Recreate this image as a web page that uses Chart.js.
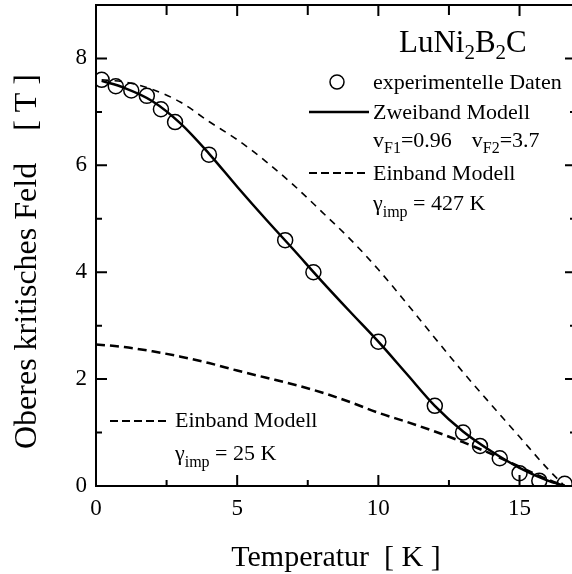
<!DOCTYPE html>
<html>
<head>
<meta charset="utf-8">
<script src="https://cdn.jsdelivr.net/npm/chart.js"></script>
<style>
  html, body { margin: 0; padding: 0; background: #fff; overflow: hidden; }
  #wrap { width: 576px; height: 574px; }
</style>
</head>
<body>
<div id="wrap"><canvas id="chart" width="576" height="574"></canvas></div>
<script>
// experimental points
const expT = [0.2, 0.7, 1.25, 1.8, 2.3, 2.8, 4.0, 6.7, 7.7, 10.0, 12.0, 13.0, 13.6, 14.3, 15.0, 15.7, 16.6];
const expH = [7.6, 7.48, 7.4, 7.3, 7.05, 6.81, 6.2, 4.6, 4.0, 2.7, 1.5, 1.0, 0.75, 0.52, 0.24, 0.1, 0.04];

// Zweiband Modell
const twoBandT = [0.2, 1, 2, 3, 4, 5, 6, 7, 8, 9, 10, 11, 12, 13, 14, 15, 16, 16.6];
const twoBandH = [7.58, 7.45, 7.2, 6.78, 6.22, 5.6, 5.0, 4.42, 3.83, 3.26, 2.7, 2.1, 1.5, 1.02, 0.65, 0.34, 0.1, 0];

// Einband Modell, gamma_imp = 427 K
const oneBand427T = [0.2, 1, 2, 3, 4, 5, 6, 7, 8, 9, 10, 11, 12, 13, 14, 15, 16, 16.6];
const oneBand427H = [7.6, 7.56, 7.42, 7.18, 6.82, 6.48, 6.08, 5.63, 5.13, 4.62, 4.05, 3.42, 2.77, 2.13, 1.52, 0.92, 0.32, 0];

// Einband Modell, gamma_imp = 25 K
const oneBand25T = [0, 1, 2, 3, 4, 5, 6, 7, 8, 9, 10, 11, 12, 13, 14, 15, 16, 16.6];
const oneBand25H = [2.65, 2.6, 2.52, 2.42, 2.3, 2.16, 2.03, 1.9, 1.75, 1.57, 1.37, 1.2, 1.02, 0.82, 0.6, 0.36, 0.12, 0];

// ticks
const xTicks = [0, 5, 10, 15];
const xMinor = [2.5, 7.5, 12.5];
const yTicks = [0, 2, 4, 6, 8];
const yMinor = [1, 3, 5, 7];

const serif = "'Liberation Serif', 'Times New Roman', serif";
Chart.defaults.font.family = serif;
Chart.defaults.color = '#000';

const pts = (xs, ys) => xs.map((x, i) => ({ x, y: ys[i] }));

// draws text pieces one after another, with subscripts
function drawParts(ctx, x, y, parts) {
    parts.forEach(p => {
        if (p.gap) { x += p.gap; return; }
        ctx.font = p.size + 'px ' + serif;
        ctx.fillText(p.t, x, y + (p.dy || 0));
        x += ctx.measureText(p.t).width;
    });
}

// no extra room for half tick labels at the scale ends
function noPad(s) {
    s.paddingTop = 0; s.paddingBottom = 0; s.paddingLeft = 0; s.paddingRight = 0;
}

const framePlugin = {
    id: 'frame',
    afterDraw(chart) {
        const { ctx, chartArea: a, scales: { x, y } } = chart;
        ctx.save();
        ctx.strokeStyle = '#000';
        ctx.lineWidth = 2;
        ctx.setLineDash([]);
        ctx.strokeRect(a.left, a.top, a.right - a.left, a.bottom - a.top);

        // inward ticks
        ctx.beginPath();
        const tick = (x1, y1, x2, y2) => { ctx.moveTo(x1, y1); ctx.lineTo(x2, y2); };
        xTicks.forEach(v => {
            const px = x.getPixelForValue(v);
            tick(px, a.bottom, px, a.bottom - 11);
            tick(px, a.top, px, a.top + 11);
        });
        xMinor.forEach(v => {
            const px = x.getPixelForValue(v);
            tick(px, a.bottom, px, a.bottom - 6);
            tick(px, a.top, px, a.top + 10);
        });
        yTicks.forEach(v => {
            const py = y.getPixelForValue(v);
            tick(a.left, py, a.left + 11, py);
            tick(a.right, py, a.right - 11, py);
        });
        yMinor.forEach(v => {
            const py = y.getPixelForValue(v);
            tick(a.left, py, a.left + 6, py);
            tick(a.right, py, a.right - 6, py);
        });
        ctx.stroke();

        // legend / annotations
        ctx.fillStyle = '#000';
        ctx.textBaseline = 'alphabetic';
        ctx.textAlign = 'left';
        drawParts(ctx, 399, 52, [
            { t: 'LuNi', size: 31 }, { t: '2', size: 21, dy: 7 },
            { t: 'B', size: 31 }, { t: '2', size: 21, dy: 7 }, { t: 'C', size: 31 }
        ]);

        ctx.lineWidth = 1.5;
        ctx.beginPath();
        ctx.arc(337, 82, 7, 0, Math.PI * 2);
        ctx.stroke();
        drawParts(ctx, 373, 89, [{ t: 'experimentelle Daten', size: 22 }]);

        ctx.lineWidth = 2.5;
        ctx.beginPath();
        ctx.moveTo(309, 112); ctx.lineTo(369, 112);
        ctx.stroke();
        drawParts(ctx, 373, 119, [{ t: 'Zweiband Modell', size: 22 }]);
        drawParts(ctx, 373, 147, [
            { t: 'v', size: 22 }, { t: 'F1', size: 16, dy: 6 }, { t: '=0.96', size: 22 },
            { gap: 20 },
            { t: 'v', size: 22 }, { t: 'F2', size: 16, dy: 6 }, { t: '=3.7', size: 22 }
        ]);

        ctx.lineWidth = 2;
        ctx.setLineDash([8, 4]);
        ctx.beginPath();
        ctx.moveTo(309, 173); ctx.lineTo(369, 173);
        ctx.moveTo(110, 421); ctx.lineTo(170, 421);
        ctx.stroke();
        ctx.setLineDash([]);
        drawParts(ctx, 373, 180, [{ t: 'Einband Modell', size: 22 }]);
        drawParts(ctx, 373, 210, [
            { t: 'γ', size: 22 }, { t: 'imp', size: 16, dy: 7 }, { t: ' = 427 K', size: 22 }
        ]);
        drawParts(ctx, 175, 427, [{ t: 'Einband Modell', size: 22 }]);
        drawParts(ctx, 175, 460, [
            { t: 'γ', size: 22 }, { t: 'imp', size: 16, dy: 7 }, { t: ' = 25 K', size: 22 }
        ]);
        ctx.restore();
    }
};

const ctx = document.getElementById('chart').getContext('2d');
new Chart(ctx, {
    type: 'scatter',
    data: {
        datasets: [
            {
                label: 'experimentelle Daten',
                data: pts(expT, expH),
                showLine: false,
                pointStyle: 'circle',
                pointRadius: 7.5,
                pointBorderWidth: 1.5,
                pointBorderColor: '#000',
                pointBackgroundColor: 'rgba(0,0,0,0)'
            },
            {
                label: 'Zweiband Modell',
                data: pts(twoBandT, twoBandH),
                showLine: true,
                borderColor: '#000',
                borderWidth: 2.5,
                pointRadius: 0,
                cubicInterpolationMode: 'monotone'
            },
            {
                label: 'Einband Modell 427 K',
                data: pts(oneBand427T, oneBand427H),
                showLine: true,
                borderColor: '#000',
                borderWidth: 1.6,
                borderDash: [7, 6],
                pointRadius: 0,
                cubicInterpolationMode: 'monotone'
            },
            {
                label: 'Einband Modell 25 K',
                data: pts(oneBand25T, oneBand25H),
                showLine: true,
                borderColor: '#000',
                borderWidth: 2.5,
                borderDash: [9, 5],
                pointRadius: 0,
                cubicInterpolationMode: 'monotone'
            }
        ]
    },
    options: {
        responsive: false,
        animation: false,
        layout: { autoPadding: false, padding: { top: 5, left: 0, right: 0, bottom: 0 } },
        plugins: { legend: { display: false }, tooltip: { enabled: false } },
        scales: {
            x: {
                type: 'linear',
                min: 0,
                max: 17,
                grid: { display: false, drawTicks: false },
                border: { display: false },
                afterBuildTicks: s => { s.ticks = xTicks.map(v => ({ value: v })); },
                afterFit: s => { s.height = 88; noPad(s); },
                ticks: { font: { size: 23 }, padding: 9, maxRotation: 0 },
                title: {
                    display: true,
                    text: 'Temperatur  [ K ]',
                    font: { size: 30, lineHeight: 1 },
                    padding: { top: 0, bottom: 1 }
                }
            },
            y: {
                type: 'linear',
                min: 0,
                max: 9,
                grid: { display: false, drawTicks: false },
                border: { display: false },
                afterBuildTicks: s => { s.ticks = yTicks.map(v => ({ value: v })); },
                afterFit: s => { s.width = 96; noPad(s); },
                ticks: { font: { size: 23 }, padding: 9 },
                title: {
                    display: true,
                    text: 'Oberes kritisches Feld    [ T ]    ',
                    font: { size: 32, lineHeight: 1 },
                    padding: { top: 12, bottom: 0 }
                }
            }
        }
    },
    plugins: [framePlugin]
});
</script>
</body>
</html>
